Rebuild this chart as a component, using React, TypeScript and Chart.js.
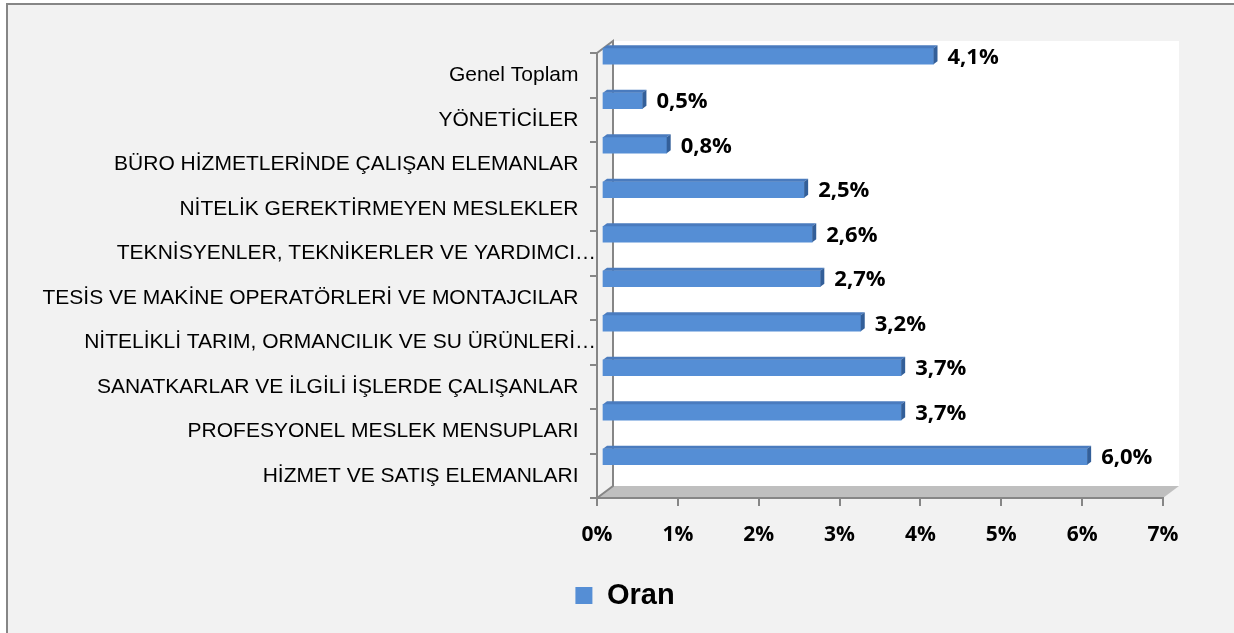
import React, { useEffect, useRef } from 'react';
import { Chart, registerables } from 'chart.js';

Chart.register(...registerables);

const categories: string[] = [
  'Genel Toplam',
  'YÖNETİCİLER',
  'BÜRO HİZMETLERİNDE ÇALIŞAN ELEMANLAR',
  'NİTELİK GEREKTİRMEYEN MESLEKLER',
  'TEKNİSYENLER, TEKNİKERLER VE YARDIMCI…',
  'TESİS VE MAKİNE OPERATÖRLERİ VE MONTAJCILAR',
  'NİTELİKLİ TARIM, ORMANCILIK VE SU ÜRÜNLERİ…',
  'SANATKARLAR VE İLGİLİ İŞLERDE ÇALIŞANLAR',
  'PROFESYONEL MESLEK MENSUPLARI',
  'HİZMET VE SATIŞ ELEMANLARI',
];
const oranValues: number[] = [4.1, 0.5, 0.8, 2.5, 2.6, 2.7, 3.2, 3.7, 3.7, 6.0];
const seriesName = 'Oran';
const xMin = 0;
const xMax = 7;
const xStep = 1;

const FRONT = '#558ED5';
const TOP = '#4A7BBE';
const SIDE = '#335F99';
const AXIS = '#868686';
const DEPTH_X = 16;
const DEPTH_Y = -12;
const BAR_SHIFT_X = 5;
const BAR_SHIFT_Y = -19;
const BAR_DX = 4;
const BAR_DY = -3;
const LEGEND_LEFT = 87;

const fmt = (v: number) => v.toFixed(1).replace('.', ',') + '%';

const threeD = {
  id: 'threeD',
  beforeDraw(chart: any) {
    const { ctx, chartArea: a } = chart;
    if (chart.legend) {
      chart.legend.left = LEGEND_LEFT;
      chart.legend.right = a.right;
    }
    ctx.save();
    // back wall
    ctx.fillStyle = '#ffffff';
    ctx.fillRect(a.left + DEPTH_X, a.top + DEPTH_Y, a.right - a.left, a.bottom - a.top);
    // floor
    ctx.fillStyle = '#BFBFBF';
    ctx.beginPath();
    ctx.moveTo(a.left, a.bottom);
    ctx.lineTo(a.right, a.bottom);
    ctx.lineTo(a.right + DEPTH_X, a.bottom + DEPTH_Y);
    ctx.lineTo(a.left + DEPTH_X, a.bottom + DEPTH_Y);
    ctx.closePath();
    ctx.fill();
    // left wall outline
    ctx.strokeStyle = AXIS;
    ctx.lineWidth = 2;
    ctx.beginPath();
    ctx.moveTo(a.left, a.top);
    ctx.lineTo(a.left + DEPTH_X, a.top + DEPTH_Y);
    ctx.lineTo(a.left + DEPTH_X, a.bottom + DEPTH_Y);
    ctx.lineTo(a.left, a.bottom);
    ctx.stroke();
    ctx.restore();
  },
  beforeDatasetsDraw(chart: any) {
    chart.ctx.save();
    chart.ctx.translate(BAR_SHIFT_X, BAR_SHIFT_Y);
  },
  afterDatasetsDraw(chart: any) {
    const { ctx } = chart;
    const meta = chart.getDatasetMeta(0);
    const data = chart.data.datasets[0].data as number[];
    meta.data.forEach((bar: any, i: number) => {
      const p = bar.getProps(['x', 'y', 'base', 'height'], true);
      const x0 = Math.min(p.base, p.x);
      const x1 = Math.max(p.base, p.x);
      const t = p.y - p.height / 2;
      const b = p.y + p.height / 2;
      // top face
      ctx.fillStyle = TOP;
      ctx.beginPath();
      ctx.moveTo(x0, t);
      ctx.lineTo(x1, t);
      ctx.lineTo(x1 + BAR_DX, t + BAR_DY);
      ctx.lineTo(x0 + BAR_DX, t + BAR_DY);
      ctx.closePath();
      ctx.fill();
      // right face
      ctx.fillStyle = SIDE;
      ctx.beginPath();
      ctx.moveTo(x1, t);
      ctx.lineTo(x1 + BAR_DX, t + BAR_DY);
      ctx.lineTo(x1 + BAR_DX, b + BAR_DY);
      ctx.lineTo(x1, b);
      ctx.closePath();
      ctx.fill();
      // data label
      ctx.fillStyle = '#000000';
      ctx.font = "bold 22px 'Open Sans', sans-serif";
      ctx.textAlign = 'left';
      ctx.textBaseline = 'middle';
      ctx.fillText(fmt(data[i]), x1 + BAR_DX + 10, p.y + 1);
    });
    ctx.restore();
  },
};

export default function App() {
  const ref = useRef<HTMLCanvasElement | null>(null);

  useEffect(() => {
    document.body.style.margin = '0';
    if (!ref.current) return;
    const chart = new Chart(ref.current, {
      type: 'bar',
      data: {
        labels: categories,
        datasets: [
          {
            label: seriesName,
            data: oranValues,
            backgroundColor: FRONT,
            borderWidth: 0,
            barThickness: 16,
            clip: false as any,
          },
        ],
      },
      plugins: [threeD],
      options: {
        indexAxis: 'y',
        responsive: false,
        animation: false,
        devicePixelRatio: 1,
        layout: { padding: { top: 53, left: 30, right: 71, bottom: 13 } },
        plugins: {
          legend: {
            position: 'bottom',
            labels: {
              boxWidth: 17,
              boxHeight: 17,
              padding: 10,
              color: '#000000',
              font: { family: "'Liberation Sans', Arial, sans-serif", size: 29, weight: 'bold' },
            },
          },
          tooltip: { enabled: false },
        },
        scales: {
          x: {
            type: 'linear',
            min: xMin,
            max: xMax,
            ticks: {
              stepSize: xStep,
              padding: 16,
              color: '#000000',
              font: { family: "'Open Sans', sans-serif", size: 21, weight: 'bold' },
              callback: (v: any) => v + '%',
            },
            grid: { display: true, drawOnChartArea: false, drawTicks: true, tickLength: 8, color: AXIS, lineWidth: 2 },
            border: { display: true, color: AXIS, width: 2 },
            afterFit: (s: any) => { s.height = 73; },
          },
          y: {
            type: 'category',
            offset: true,
            ticks: {
              padding: -6,
              color: '#000000',
              font: { family: "'Liberation Sans', Arial, sans-serif", size: 21 },
              callback: function (this: any, v: any) {
                const l = this.getLabelForValue(v) as string;
                return l.endsWith('…') ? l : l + '\u00a0\u00a0\u00a0';
              },
            },
            grid: { display: true, offset: true, drawOnChartArea: false, drawTicks: true, tickLength: 7, color: AXIS, lineWidth: 2 },
            border: { display: true, color: AXIS, width: 2 },
            afterFit: (s: any) => { s.width = 567; },
          },
        },
      },
    });
    return () => chart.destroy();
  }, []);

  return (
    <div style={{ position: 'fixed', left: 0, top: 0, width: 1234, height: 633, background: '#ffffff', overflow: 'hidden' }}>
      <div
        style={{
          position: 'absolute',
          left: 6,
          top: 3,
          width: 1260,
          height: 660,
          borderLeft: `2px solid ${AXIS}`,
          borderTop: `2px solid ${AXIS}`,
          background: '#F2F2F2',
        }}
      />
      <canvas ref={ref} width={1234} height={633} style={{ position: 'absolute', left: 0, top: 0 }} />
    </div>
  );
}
